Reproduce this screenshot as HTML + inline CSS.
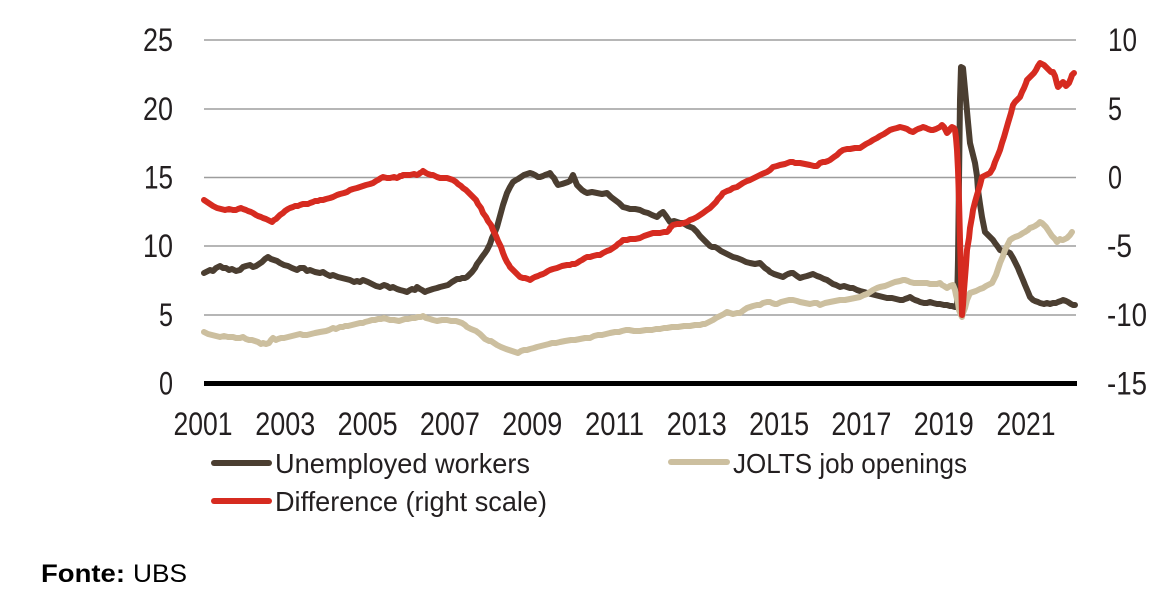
<!DOCTYPE html>
<html>
<head>
<meta charset="utf-8">
<style>
  html, body { margin: 0; padding: 0; background: #ffffff; }
  body { width: 1176px; height: 608px; overflow: hidden; }
  svg { display: block; }
  .t { font-family: "Liberation Sans", "DejaVu Sans", sans-serif; fill: #231f20; }
</style>
</head>
<body>
<svg width="1176" height="608" viewBox="0 0 1176 608" xmlns="http://www.w3.org/2000/svg">
  <rect width="1176" height="608" fill="#ffffff"/>

  <!-- gridlines -->
  <g stroke="#9d9d9d" stroke-width="1.6">
    <line x1="204" y1="40" x2="1076" y2="40"/>
    <line x1="204" y1="109" x2="1076" y2="109"/>
    <line x1="204" y1="177.5" x2="1076" y2="177.5"/>
    <line x1="204" y1="246" x2="1076" y2="246"/>
    <line x1="204" y1="315" x2="1076" y2="315"/>
  </g>
  <line x1="204" y1="383.5" x2="1077" y2="383.5" stroke="#000" stroke-width="5"/>

  <!-- left axis labels -->
  <g class="t" font-size="32" text-anchor="end">
    <text x="173" y="51" textLength="30" lengthAdjust="spacingAndGlyphs">25</text>
    <text x="173" y="120" textLength="30" lengthAdjust="spacingAndGlyphs">20</text>
    <text x="173" y="188.5" textLength="29" lengthAdjust="spacingAndGlyphs">15</text>
    <text x="173" y="257" textLength="30" lengthAdjust="spacingAndGlyphs">10</text>
    <text x="173" y="326" textLength="14" lengthAdjust="spacingAndGlyphs">5</text>
    <text x="173" y="394.5" textLength="14" lengthAdjust="spacingAndGlyphs">0</text>
  </g>

  <!-- right axis labels -->
  <g class="t" font-size="32" text-anchor="start">
    <text x="1108" y="51" textLength="29" lengthAdjust="spacingAndGlyphs">10</text>
    <text x="1108" y="120" textLength="14" lengthAdjust="spacingAndGlyphs">5</text>
    <text x="1108" y="188.5" textLength="14" lengthAdjust="spacingAndGlyphs">0</text>
    <text x="1107" y="257" textLength="25" lengthAdjust="spacingAndGlyphs">-5</text>
    <text x="1107" y="326" textLength="40" lengthAdjust="spacingAndGlyphs">-10</text>
    <text x="1107" y="394.5" textLength="40" lengthAdjust="spacingAndGlyphs">-15</text>
  </g>

  <!-- x axis labels -->
  <g class="t" font-size="32" text-anchor="middle">
    <text x="203" y="435" textLength="59" lengthAdjust="spacingAndGlyphs">2001</text>
    <text x="285.3" y="435" textLength="60" lengthAdjust="spacingAndGlyphs">2003</text>
    <text x="367.6" y="435" textLength="60" lengthAdjust="spacingAndGlyphs">2005</text>
    <text x="449.9" y="435" textLength="60" lengthAdjust="spacingAndGlyphs">2007</text>
    <text x="532.2" y="435" textLength="60" lengthAdjust="spacingAndGlyphs">2009</text>
    <text x="614.5" y="435" textLength="59" lengthAdjust="spacingAndGlyphs">2011</text>
    <text x="696.8" y="435" textLength="60" lengthAdjust="spacingAndGlyphs">2013</text>
    <text x="779.1" y="435" textLength="60" lengthAdjust="spacingAndGlyphs">2015</text>
    <text x="861.4" y="435" textLength="60" lengthAdjust="spacingAndGlyphs">2017</text>
    <text x="943.7" y="435" textLength="60" lengthAdjust="spacingAndGlyphs">2019</text>
    <text x="1026" y="435" textLength="59" lengthAdjust="spacingAndGlyphs">2021</text>
  </g>

  <!-- Unemployed workers (brown) -->
  <polyline fill="none" stroke="#4b3e31" stroke-width="6" stroke-linejoin="round" stroke-linecap="round"
    points="204,273 208,271 210,270 213,271 216,268 220,266 223,268 226,268 229,270 232,269 236,271 240,270 243,267 246,266 250,265 253,267 256,266 259,264 262,262 265,259 268,257 271,259 274,260 277,261 280,263 284,265 288,266 292,268 297,270 300,268 304,268 307,271 310,270 315,272 320,273 323,272 326,274 330,276 333,275 338,277 342,278 346,279 350,280 354,282 357,281 360,282 363,280 368,282 372,284 376,286 380,287 384,285 387,286 390,288 393,287 397,289 400,290 404,291 407,292 410,290 412,289 415,290 417,287 420,289 422,290 425,292 427,291 430,290 433,289 437,288 440,287 444,286 448,285 452,282 457,279 460,279 462,278 465,278 467,277 470,274 472,272 475,268 477,264 480,260 482,257 485,253 487,250 490,244 492,238 495,232 497,227 500,216 503,205 505,199 507,193 510,187 513,182 516,180 518,179 521,177 524,175 527,174 530,173 533,174 535,175 538,177 540,177 543,176 545,175 548,174 550,173 552,176 554,178 556,182 558,185 562,184 565,183 568,182 570,181 572,177 573,175 575,180 577,185 580,188 582,190 585,192 587,193 592,192 597,193 602,194 607,193 611,197 615,200 619,203 623,207 627,208 630,209 635,209 640,210 644,212 648,213 652,215 657,217 660,214 663,212 666,216 670,222 674,221 677,222 680,223 683,223 688,226 693,228 697,232 700,236 704,240 707,243 710,246 712,247 715,247 717,248 721,251 725,253 729,255 733,257 737,258 742,260 746,262 750,263 755,264 760,263 763,266 765,268 768,270 770,272 774,274 777,275 780,276 783,277 786,275 788,274 791,273 793,273 797,276 800,278 803,277 807,276 810,275 813,274 817,276 820,277 824,279 827,280 830,282 833,284 836,285 840,287 844,286 847,287 850,288 853,288 857,290 860,291 864,292 867,293 871,294 875,295 879,296 883,297 887,298 892,298 896,299 900,300 903,300 905,299 908,298 910,297 913,299 915,300 918,301 920,302 924,303 927,303 930,302 933,303 937,304 940,304 944,305 947,305 950,306 952,306 955,307 957,307 958,260 959,180 960,100 961,67 963,68 966,100 968,122 970,143 973,155 975,163 977,176 978,190 980,204 982,217 984,227 985,232 988,235 990,237 993,240 995,243 998,247 1000,250 1003,251 1005,252 1008,252 1010,253 1013,258 1015,262 1018,268 1020,273 1023,280 1025,285 1028,292 1030,297 1033,300 1035,301 1038,302 1040,303 1044,304 1047,303 1050,304 1053,303 1056,303 1058,302 1061,301 1063,300 1066,301 1068,302 1071,304 1073,305 1075,305"/>

  <!-- JOLTS job openings (tan) -->
  <polyline fill="none" stroke="#ccbf9f" stroke-width="6" stroke-linejoin="round" stroke-linecap="round"
    points="204,332 208,334 212,335 216,336 220,337 224,336 228,337 233,337 236,338 240,338 243,337 246,339 249,340 252,340 255,341 258,342 261,344 263,343 266,344 269,343 271,340 273,338 276,340 278,339 281,338 284,338 288,337 292,336 296,335 300,334 303,335 307,335 311,334 315,333 320,332 326,331 329,330 333,328 336,329 340,327 343,327 345,326 348,326 352,325 356,324 360,323 363,323 365,322 369,321 372,320 375,320 378,319 381,319 384,318 387,319 390,320 394,320 399,321 402,320 405,319 408,319 412,318 415,318 418,317 421,317 423,316 426,318 430,319 433,320 437,321 442,320 447,320 451,321 456,321 459,322 462,323 465,325 467,327 471,329 476,331 480,334 483,337 485,339 487,340 489,341 491,341 494,343 497,345 501,347 506,349 509,350 512,351 515,352 518,353 521,351 524,350 527,350 530,349 534,348 537,347 541,346 545,345 549,344 552,343 556,343 560,342 565,341 571,340 575,340 580,339 585,338 590,338 594,336 598,335 602,335 606,334 610,333 615,332 619,332 622,331 626,330 629,330 634,331 640,331 646,330 652,330 656,329 660,329 664,328 667,328 672,327 678,327 684,326 690,326 695,325 700,325 703,324 705,324 709,322 713,320 716,318 720,316 724,314 727,312 730,313 733,314 737,313 740,313 744,310 747,308 750,307 753,306 757,305 760,305 763,303 767,302 770,302 772,303 775,304 777,304 781,302 785,301 789,300 793,300 797,301 800,302 805,303 810,304 814,303 817,303 820,305 825,303 830,302 835,301 840,300 845,300 850,299 855,298 860,297 864,295 867,294 870,292 873,290 877,288 880,287 885,286 890,284 895,282 900,281 903,280 905,280 908,281 910,282 914,283 918,283 922,283 927,283 930,284 933,284 937,284 940,283 942,285 944,286 947,288 950,286 953,285 955,290 956,295 958,303 959,310 961,315 962,317 963,313 965,308 967,300 970,293 973,292 976,291 980,289 983,288 986,286 988,285 990,284 992,283 994,279 996,275 998,269 1000,263 1003,256 1005,250 1008,244 1010,240 1013,238 1015,237 1018,236 1020,235 1023,233 1025,232 1028,230 1030,228 1033,227 1035,226 1038,224 1040,222 1042,223 1044,225 1046,227 1048,230 1050,233 1052,236 1055,239 1057,242 1059,240 1060,239 1062,240 1063,240 1065,239 1067,238 1069,236 1070,235 1072,232"/>

  <!-- Difference (red) -->
  <polyline fill="none" stroke="#d62b20" stroke-width="6" stroke-linejoin="round" stroke-linecap="round"
    points="204,200 207,202 210,204 213,206 217,208 221,209 225,210 229,209 233,210 236,210 238,209 241,208 243,209 246,210 248,211 251,212 253,213 256,215 258,216 261,217 263,218 266,219 268,220 270,221 272,222 274,220 276,219 278,217 280,215 283,213 285,211 288,209 290,208 293,207 295,206 298,206 300,205 303,204 305,204 308,204 310,203 313,202 315,201 318,201 320,200 323,200 326,199 330,198 333,197 337,195 340,194 344,193 347,192 350,190 353,189 357,188 360,187 363,186 366,185 370,184 373,183 376,181 378,180 381,178 383,177 387,178 390,178 394,177 397,178 399,177 400,176 402,176 403,175 407,175 410,175 414,174 417,175 419,174 420,173 422,172 423,171 426,173 428,174 431,175 433,175 435,176 437,177 440,178 443,178 447,178 450,179 453,180 456,182 458,184 461,186 463,188 466,190 468,192 471,195 473,197 476,200 478,204 481,208 483,213 486,217 488,221 491,225 493,230 496,236 498,241 501,247 503,253 505,258 507,262 509,265 510,267 513,270 515,272 518,275 520,277 523,278 525,278 528,279 530,280 533,278 535,277 538,276 540,275 543,274 545,273 548,271 550,270 553,269 557,268 562,266 567,265 570,265 572,264 575,264 577,263 580,261 582,260 585,258 587,257 590,257 593,256 597,255 600,255 603,253 607,251 610,250 613,248 616,246 618,244 621,242 623,240 627,240 630,239 635,239 640,238 644,236 647,235 650,234 653,233 657,233 660,233 664,232 667,232 669,230 670,228 672,226 673,225 677,224 680,224 684,223 687,222 690,220 693,219 697,217 700,215 703,213 707,210 710,208 713,205 716,202 718,199 721,196 723,193 727,191 730,190 733,188 737,187 740,185 743,183 747,181 750,180 754,178 758,176 762,174 767,172 770,170 773,167 777,166 780,165 785,164 790,162 793,162 795,163 798,163 800,163 805,164 810,165 814,166 817,166 819,164 820,163 823,162 825,162 828,161 830,160 834,157 837,155 840,152 843,150 847,149 850,149 855,148 860,148 863,146 866,144 870,142 873,140 877,138 880,136 884,134 887,132 890,130 893,129 897,128 900,127 904,128 907,129 910,131 913,132 916,130 918,129 921,128 923,127 926,128 928,129 931,130 933,130 936,129 938,128 940,127 942,125 944,127 945,129 947,133 949,131 950,129 952,127 954,128 955,130 956,138 957,150 958,170 959,200 960,240 961,275 962,315 963,305 964,290 966,265 967,250 969,238 970,228 972,217 973,210 975,202 977,195 980,185 982,177 984,176 986,175 988,174 990,173 993,168 995,162 998,155 1000,150 1002,143 1004,137 1006,130 1008,123 1011,113 1013,105 1015,102 1017,100 1019,98 1020,97 1022,92 1024,88 1026,83 1027,80 1030,77 1032,75 1034,73 1036,70 1038,66 1040,63 1042,64 1044,65 1046,67 1047,68 1049,70 1051,72 1053,72 1055,76 1056,80 1057,84 1058,87 1059,86 1060,85 1062,83 1063,82 1065,84 1066,86 1068,84 1069,83 1071,78 1072,75 1074,73"/>

  <!-- legend -->
  <g stroke-width="6" stroke-linecap="round">
    <line x1="214" y1="463" x2="269" y2="463" stroke="#4b3e31"/>
    <line x1="214" y1="501" x2="269" y2="501" stroke="#d62b20"/>
    <line x1="671" y1="462" x2="727" y2="462" stroke="#ccbf9f"/>
  </g>
  <g class="t" font-size="28">
    <text x="275" y="473" textLength="255" lengthAdjust="spacingAndGlyphs">Unemployed workers</text>
    <text x="275" y="511" textLength="272" lengthAdjust="spacingAndGlyphs">Difference (right scale)</text>
    <text x="733" y="473" textLength="234" lengthAdjust="spacingAndGlyphs">JOLTS job openings</text>
  </g>

  <!-- source -->
  <text class="t" x="41" y="582" font-size="25" font-weight="bold" textLength="84" lengthAdjust="spacingAndGlyphs" style="fill:#000">Fonte:</text>
  <text class="t" x="133" y="582" font-size="25" textLength="54" lengthAdjust="spacingAndGlyphs" style="fill:#000">UBS</text>
</svg>
</body>
</html>
